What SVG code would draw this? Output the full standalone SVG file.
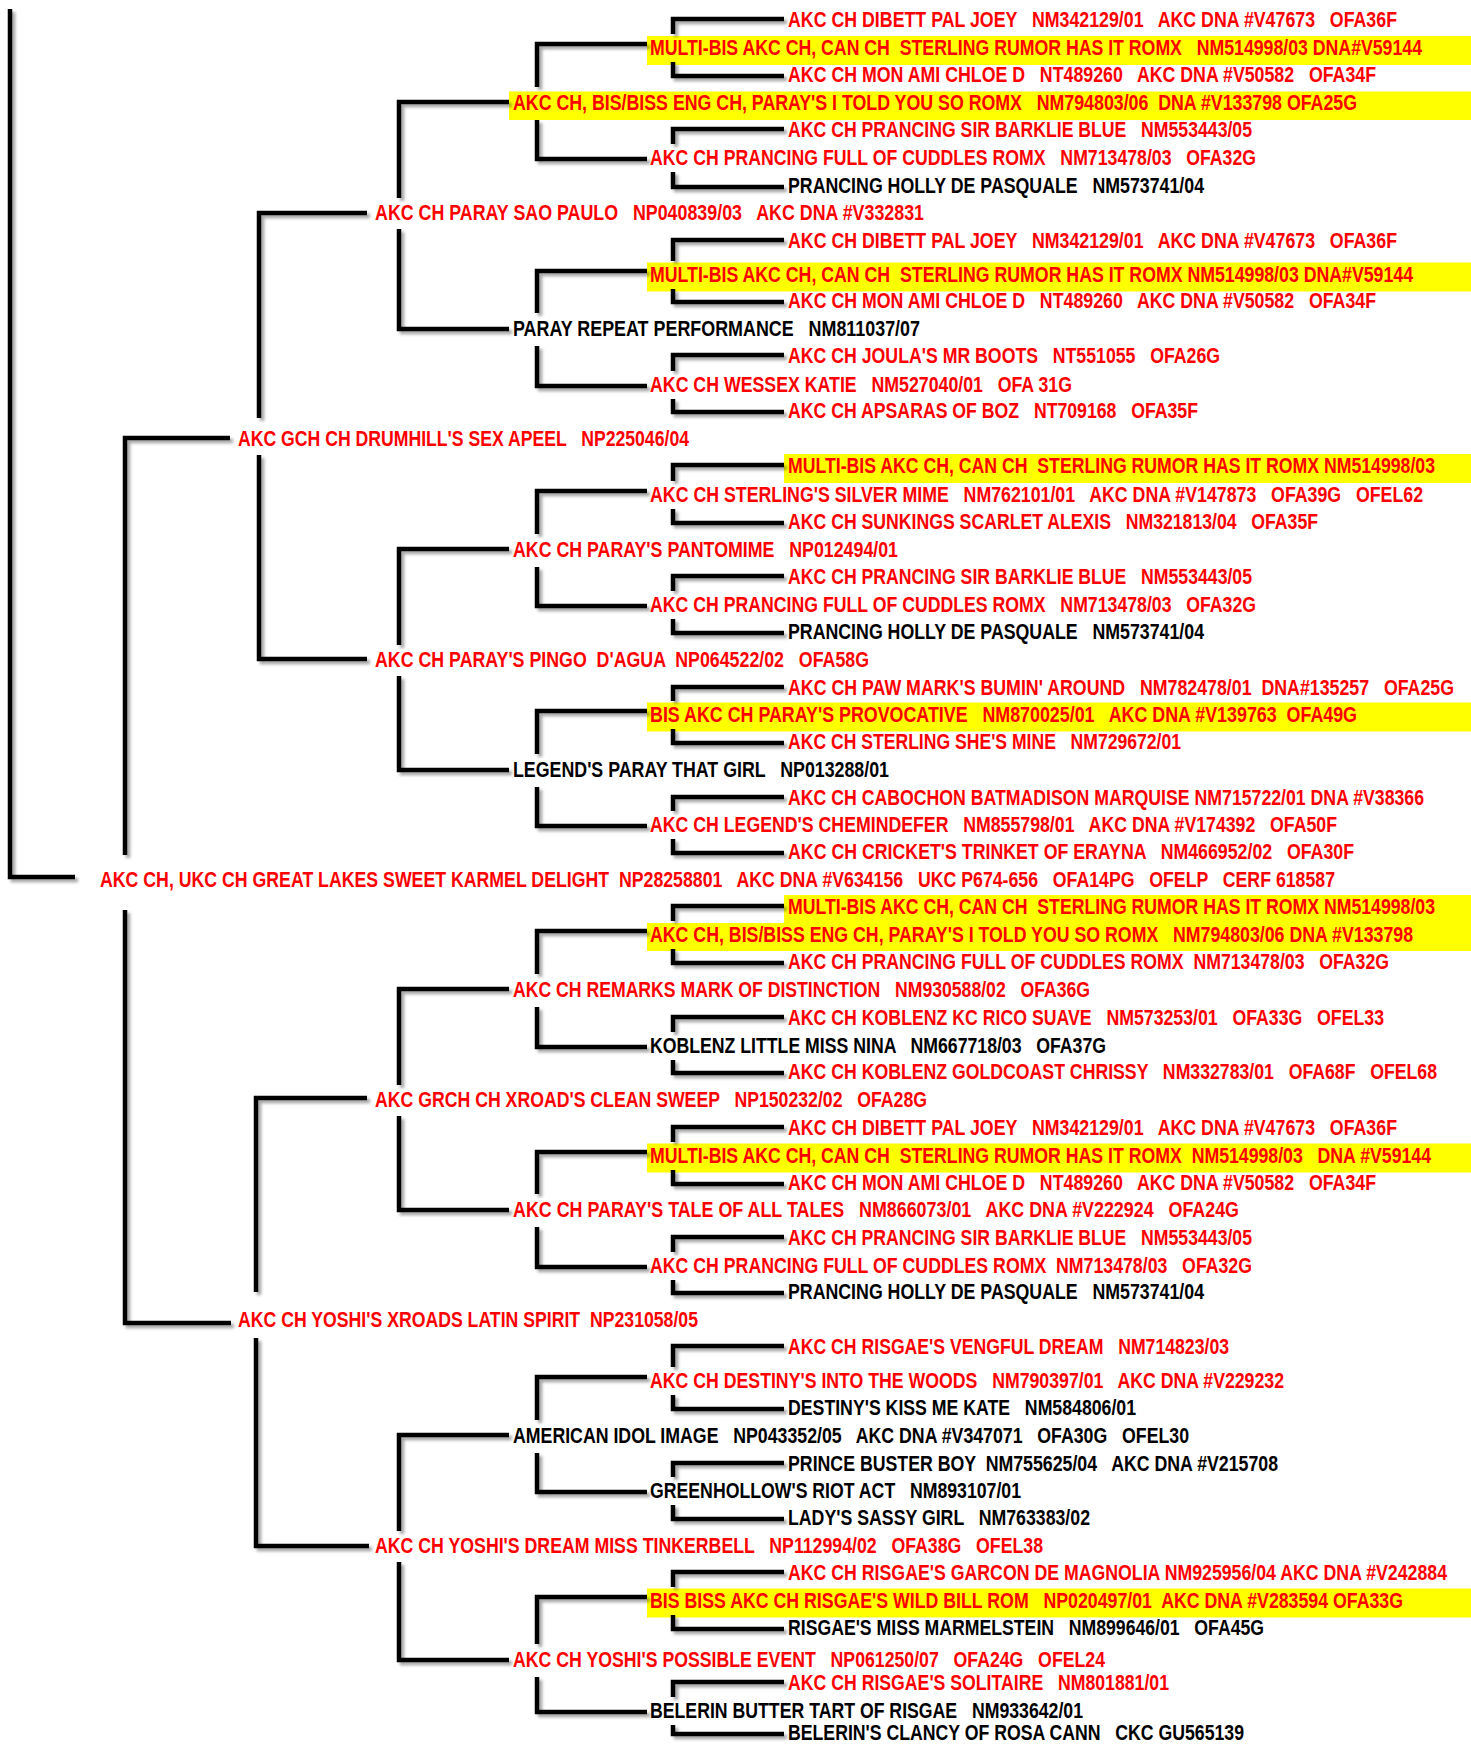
<svg xmlns="http://www.w3.org/2000/svg" width="1471" height="1745" viewBox="0 0 1471 1745">
<defs>
<style>
text{font-family:"Liberation Sans",Arial,sans-serif;font-weight:bold;font-size:17.2px;white-space:pre}
.r{fill:#ff0000}
.k{fill:#000000}
.hl{fill:#ffff00}
.c{fill:none;stroke:#000;stroke-width:4.5;stroke-linecap:butt;stroke-linejoin:miter}
</style>
<filter id="sh" x="-10%" y="-10%" width="130%" height="130%">
<feDropShadow dx="3" dy="3" stdDeviation="1.5" flood-color="#000" flood-opacity="0.35"/>
</filter>
</defs>
<rect width="1471" height="1745" fill="#ffffff"/>
<g id="nodes">
<g id="n1"><text class="r" transform="translate(788,26.7) scale(1,1.24)" textLength="609" lengthAdjust="spacingAndGlyphs">AKC CH DIBETT PAL JOEY   NM342129/01   AKC DNA #V47673   OFA36F</text></g>
<g id="n2"><rect class="hl" x="647" y="36" width="824" height="29"/><text class="r" transform="translate(650,55) scale(1,1.24)" textLength="772" lengthAdjust="spacingAndGlyphs">MULTI-BIS AKC CH, CAN CH  STERLING RUMOR HAS IT ROMX   NM514998/03 DNA#V59144</text></g>
<g id="n3"><text class="r" transform="translate(788,81.7) scale(1,1.24)" textLength="588" lengthAdjust="spacingAndGlyphs">AKC CH MON AMI CHLOE D   NT489260   AKC DNA #V50582   OFA34F</text></g>
<g id="n4"><rect class="hl" x="509" y="91.5" width="962" height="28.5"/><text class="r" transform="translate(513,110) scale(1,1.24)" textLength="844" lengthAdjust="spacingAndGlyphs">AKC CH, BIS/BISS ENG CH, PARAY'S I TOLD YOU SO ROMX   NM794803/06  DNA #V133798 OFA25G</text></g>
<g id="n5"><text class="r" transform="translate(788,137.3) scale(1,1.24)" textLength="464" lengthAdjust="spacingAndGlyphs">AKC CH PRANCING SIR BARKLIE BLUE   NM553443/05</text></g>
<g id="n6"><text class="r" transform="translate(650,165) scale(1,1.24)" textLength="606" lengthAdjust="spacingAndGlyphs">AKC CH PRANCING FULL OF CUDDLES ROMX   NM713478/03   OFA32G</text></g>
<g id="n7"><text class="k" transform="translate(788,192.7) scale(1,1.24)" textLength="416" lengthAdjust="spacingAndGlyphs">PRANCING HOLLY DE PASQUALE   NM573741/04</text></g>
<g id="n8"><text class="r" transform="translate(375,220) scale(1,1.24)" textLength="549" lengthAdjust="spacingAndGlyphs">AKC CH PARAY SAO PAULO   NP040839/03   AKC DNA #V332831</text></g>
<g id="n9"><text class="r" transform="translate(788,248) scale(1,1.24)" textLength="609" lengthAdjust="spacingAndGlyphs">AKC CH DIBETT PAL JOEY   NM342129/01   AKC DNA #V47673   OFA36F</text></g>
<g id="n10"><rect class="hl" x="647" y="262.5" width="824" height="29"/><text class="r" transform="translate(650,281.7) scale(1,1.24)" textLength="763" lengthAdjust="spacingAndGlyphs">MULTI-BIS AKC CH, CAN CH  STERLING RUMOR HAS IT ROMX NM514998/03 DNA#V59144</text></g>
<g id="n11"><text class="r" transform="translate(788,308.3) scale(1,1.24)" textLength="588" lengthAdjust="spacingAndGlyphs">AKC CH MON AMI CHLOE D   NT489260   AKC DNA #V50582   OFA34F</text></g>
<g id="n12"><text class="k" transform="translate(513,336) scale(1,1.24)" textLength="407" lengthAdjust="spacingAndGlyphs">PARAY REPEAT PERFORMANCE   NM811037/07</text></g>
<g id="n13"><text class="r" transform="translate(788,363) scale(1,1.24)" textLength="432" lengthAdjust="spacingAndGlyphs">AKC CH JOULA'S MR BOOTS   NT551055   OFA26G</text></g>
<g id="n14"><text class="r" transform="translate(650,391.7) scale(1,1.24)" textLength="422" lengthAdjust="spacingAndGlyphs">AKC CH WESSEX KATIE   NM527040/01   OFA 31G</text></g>
<g id="n15"><text class="r" transform="translate(788,418) scale(1,1.24)" textLength="410" lengthAdjust="spacingAndGlyphs">AKC CH APSARAS OF BOZ   NT709168   OFA35F</text></g>
<g id="n16"><text class="r" transform="translate(238,446) scale(1,1.24)" textLength="451" lengthAdjust="spacingAndGlyphs">AKC GCH CH DRUMHILL'S SEX APEEL   NP225046/04</text></g>
<g id="n17"><rect class="hl" x="784" y="454" width="687" height="29"/><text class="r" transform="translate(788,473) scale(1,1.24)" textLength="647" lengthAdjust="spacingAndGlyphs">MULTI-BIS AKC CH, CAN CH  STERLING RUMOR HAS IT ROMX NM514998/03</text></g>
<g id="n18"><text class="r" transform="translate(650,502) scale(1,1.24)" textLength="773" lengthAdjust="spacingAndGlyphs">AKC CH STERLING'S SILVER MIME   NM762101/01   AKC DNA #V147873   OFA39G   OFEL62</text></g>
<g id="n19"><text class="r" transform="translate(788,529) scale(1,1.24)" textLength="530" lengthAdjust="spacingAndGlyphs">AKC CH SUNKINGS SCARLET ALEXIS   NM321813/04   OFA35F</text></g>
<g id="n20"><text class="r" transform="translate(513,557) scale(1,1.24)" textLength="385" lengthAdjust="spacingAndGlyphs">AKC CH PARAY'S PANTOMIME   NP012494/01</text></g>
<g id="n21"><text class="r" transform="translate(788,584) scale(1,1.24)" textLength="464" lengthAdjust="spacingAndGlyphs">AKC CH PRANCING SIR BARKLIE BLUE   NM553443/05</text></g>
<g id="n22"><text class="r" transform="translate(650,612) scale(1,1.24)" textLength="606" lengthAdjust="spacingAndGlyphs">AKC CH PRANCING FULL OF CUDDLES ROMX   NM713478/03   OFA32G</text></g>
<g id="n23"><text class="k" transform="translate(788,639) scale(1,1.24)" textLength="416" lengthAdjust="spacingAndGlyphs">PRANCING HOLLY DE PASQUALE   NM573741/04</text></g>
<g id="n24"><text class="r" transform="translate(375,667) scale(1,1.24)" textLength="494" lengthAdjust="spacingAndGlyphs">AKC CH PARAY'S PINGO  D'AGUA  NP064522/02   OFA58G</text></g>
<g id="n25"><text class="r" transform="translate(788,695) scale(1,1.24)" textLength="666" lengthAdjust="spacingAndGlyphs">AKC CH PAW MARK'S BUMIN' AROUND   NM782478/01  DNA#135257   OFA25G</text></g>
<g id="n26"><rect class="hl" x="647" y="702.5" width="824" height="29"/><text class="r" transform="translate(650,722) scale(1,1.24)" textLength="707" lengthAdjust="spacingAndGlyphs">BIS AKC CH PARAY'S PROVOCATIVE   NM870025/01   AKC DNA #V139763  OFA49G</text></g>
<g id="n27"><text class="r" transform="translate(788,749) scale(1,1.24)" textLength="393" lengthAdjust="spacingAndGlyphs">AKC CH STERLING SHE'S MINE   NM729672/01</text></g>
<g id="n28"><text class="k" transform="translate(513,777) scale(1,1.24)" textLength="376" lengthAdjust="spacingAndGlyphs">LEGEND'S PARAY THAT GIRL   NP013288/01</text></g>
<g id="n29"><text class="r" transform="translate(788,805) scale(1,1.24)" textLength="636" lengthAdjust="spacingAndGlyphs">AKC CH CABOCHON BATMADISON MARQUISE NM715722/01 DNA #V38366</text></g>
<g id="n30"><text class="r" transform="translate(650,832) scale(1,1.24)" textLength="687" lengthAdjust="spacingAndGlyphs">AKC CH LEGEND'S CHEMINDEFER   NM855798/01   AKC DNA #V174392   OFA50F</text></g>
<g id="n31"><text class="r" transform="translate(788,859) scale(1,1.24)" textLength="566" lengthAdjust="spacingAndGlyphs">AKC CH CRICKET'S TRINKET OF ERAYNA   NM466952/02   OFA30F</text></g>
<g id="n32"><text class="r" transform="translate(100,887) scale(1,1.24)" textLength="1235" lengthAdjust="spacingAndGlyphs">AKC CH, UKC CH GREAT LAKES SWEET KARMEL DELIGHT  NP28258801   AKC DNA #V634156   UKC P674-656   OFA14PG   OFELP   CERF 618587</text></g>
<g id="n33"><rect class="hl" x="784" y="895" width="687" height="28.5"/><text class="r" transform="translate(788,914) scale(1,1.24)" textLength="647" lengthAdjust="spacingAndGlyphs">MULTI-BIS AKC CH, CAN CH  STERLING RUMOR HAS IT ROMX NM514998/03</text></g>
<g id="n34"><rect class="hl" x="647" y="923" width="824" height="28"/><text class="r" transform="translate(650,942) scale(1,1.24)" textLength="763" lengthAdjust="spacingAndGlyphs">AKC CH, BIS/BISS ENG CH, PARAY'S I TOLD YOU SO ROMX   NM794803/06 DNA #V133798</text></g>
<g id="n35"><text class="r" transform="translate(788,969) scale(1,1.24)" textLength="601" lengthAdjust="spacingAndGlyphs">AKC CH PRANCING FULL OF CUDDLES ROMX  NM713478/03   OFA32G</text></g>
<g id="n36"><text class="r" transform="translate(513,997) scale(1,1.24)" textLength="577" lengthAdjust="spacingAndGlyphs">AKC CH REMARKS MARK OF DISTINCTION   NM930588/02   OFA36G</text></g>
<g id="n37"><text class="r" transform="translate(788,1025) scale(1,1.24)" textLength="596" lengthAdjust="spacingAndGlyphs">AKC CH KOBLENZ KC RICO SUAVE   NM573253/01   OFA33G   OFEL33</text></g>
<g id="n38"><text class="k" transform="translate(650,1053) scale(1,1.24)" textLength="456" lengthAdjust="spacingAndGlyphs">KOBLENZ LITTLE MISS NINA   NM667718/03   OFA37G</text></g>
<g id="n39"><text class="r" transform="translate(788,1079) scale(1,1.24)" textLength="649" lengthAdjust="spacingAndGlyphs">AKC CH KOBLENZ GOLDCOAST CHRISSY   NM332783/01   OFA68F   OFEL68</text></g>
<g id="n40"><text class="r" transform="translate(375,1107) scale(1,1.24)" textLength="552" lengthAdjust="spacingAndGlyphs">AKC GRCH CH XROAD'S CLEAN SWEEP   NP150232/02   OFA28G</text></g>
<g id="n41"><text class="r" transform="translate(788,1135) scale(1,1.24)" textLength="609" lengthAdjust="spacingAndGlyphs">AKC CH DIBETT PAL JOEY   NM342129/01   AKC DNA #V47673   OFA36F</text></g>
<g id="n42"><rect class="hl" x="647" y="1143.5" width="824" height="29"/><text class="r" transform="translate(650,1163) scale(1,1.24)" textLength="781" lengthAdjust="spacingAndGlyphs">MULTI-BIS AKC CH, CAN CH  STERLING RUMOR HAS IT ROMX  NM514998/03   DNA #V59144</text></g>
<g id="n43"><text class="r" transform="translate(788,1190) scale(1,1.24)" textLength="588" lengthAdjust="spacingAndGlyphs">AKC CH MON AMI CHLOE D   NT489260   AKC DNA #V50582   OFA34F</text></g>
<g id="n44"><text class="r" transform="translate(513,1217) scale(1,1.24)" textLength="726" lengthAdjust="spacingAndGlyphs">AKC CH PARAY'S TALE OF ALL TALES   NM866073/01   AKC DNA #V222924   OFA24G</text></g>
<g id="n45"><text class="r" transform="translate(788,1245) scale(1,1.24)" textLength="464" lengthAdjust="spacingAndGlyphs">AKC CH PRANCING SIR BARKLIE BLUE   NM553443/05</text></g>
<g id="n46"><text class="r" transform="translate(650,1273) scale(1,1.24)" textLength="602" lengthAdjust="spacingAndGlyphs">AKC CH PRANCING FULL OF CUDDLES ROMX  NM713478/03   OFA32G</text></g>
<g id="n47"><text class="k" transform="translate(788,1299) scale(1,1.24)" textLength="416" lengthAdjust="spacingAndGlyphs">PRANCING HOLLY DE PASQUALE   NM573741/04</text></g>
<g id="n48"><text class="r" transform="translate(238,1327) scale(1,1.24)" textLength="460" lengthAdjust="spacingAndGlyphs">AKC CH YOSHI'S XROADS LATIN SPIRIT  NP231058/05</text></g>
<g id="n49"><text class="r" transform="translate(788,1354) scale(1,1.24)" textLength="441" lengthAdjust="spacingAndGlyphs">AKC CH RISGAE'S VENGFUL DREAM   NM714823/03</text></g>
<g id="n50"><text class="r" transform="translate(650,1388) scale(1,1.24)" textLength="634" lengthAdjust="spacingAndGlyphs">AKC CH DESTINY'S INTO THE WOODS   NM790397/01   AKC DNA #V229232</text></g>
<g id="n51"><text class="k" transform="translate(788,1415) scale(1,1.24)" textLength="348" lengthAdjust="spacingAndGlyphs">DESTINY'S KISS ME KATE   NM584806/01</text></g>
<g id="n52"><text class="k" transform="translate(513,1443) scale(1,1.24)" textLength="676" lengthAdjust="spacingAndGlyphs">AMERICAN IDOL IMAGE   NP043352/05   AKC DNA #V347071   OFA30G   OFEL30</text></g>
<g id="n53"><text class="k" transform="translate(788,1471) scale(1,1.24)" textLength="490" lengthAdjust="spacingAndGlyphs">PRINCE BUSTER BOY  NM755625/04   AKC DNA #V215708</text></g>
<g id="n54"><text class="k" transform="translate(650,1498) scale(1,1.24)" textLength="371" lengthAdjust="spacingAndGlyphs">GREENHOLLOW'S RIOT ACT   NM893107/01</text></g>
<g id="n55"><text class="k" transform="translate(788,1525) scale(1,1.24)" textLength="302" lengthAdjust="spacingAndGlyphs">LADY'S SASSY GIRL   NM763383/02</text></g>
<g id="n56"><text class="r" transform="translate(375,1553) scale(1,1.24)" textLength="668" lengthAdjust="spacingAndGlyphs">AKC CH YOSHI'S DREAM MISS TINKERBELL   NP112994/02   OFA38G   OFEL38</text></g>
<g id="n57"><text class="r" transform="translate(788,1580) scale(1,1.24)" textLength="659" lengthAdjust="spacingAndGlyphs">AKC CH RISGAE'S GARCON DE MAGNOLIA NM925956/04 AKC DNA #V242884</text></g>
<g id="n58"><rect class="hl" x="647" y="1588.5" width="824" height="29"/><text class="r" transform="translate(650,1608) scale(1,1.24)" textLength="753" lengthAdjust="spacingAndGlyphs">BIS BISS AKC CH RISGAE'S WILD BILL ROM   NP020497/01  AKC DNA #V283594 OFA33G</text></g>
<g id="n59"><text class="k" transform="translate(788,1635) scale(1,1.24)" textLength="476" lengthAdjust="spacingAndGlyphs">RISGAE'S MISS MARMELSTEIN   NM899646/01   OFA45G</text></g>
<g id="n60"><text class="r" transform="translate(513,1667) scale(1,1.24)" textLength="592" lengthAdjust="spacingAndGlyphs">AKC CH YOSHI'S POSSIBLE EVENT   NP061250/07   OFA24G   OFEL24</text></g>
<g id="n61"><text class="r" transform="translate(788,1690) scale(1,1.24)" textLength="381" lengthAdjust="spacingAndGlyphs">AKC CH RISGAE'S SOLITAIRE   NM801881/01</text></g>
<g id="n62"><text class="k" transform="translate(650,1718) scale(1,1.24)" textLength="433" lengthAdjust="spacingAndGlyphs">BELERIN BUTTER TART OF RISGAE   NM933642/01</text></g>
<g id="n63"><text class="k" transform="translate(788,1740.3) scale(1,1.24)" textLength="456" lengthAdjust="spacingAndGlyphs">BELERIN'S CLANCY OF ROSA CANN   CKC GU565139</text></g>
</g>
<g id="connectors" class="c" filter="url(#sh)">
<path d="M10,9 V877 H75"/>
<path d="M230,438 H125 V855"/>
<path d="M125,910 V1323 H231"/>
<path d="M367,213 H259 V418"/>
<path d="M259,455 V659 H367"/>
<path d="M367,1098 H256 V1292"/>
<path d="M256,1338 V1546 H369"/>
<path d="M509,102 H399 V198"/>
<path d="M399,229 V329 H509"/>
<path d="M509,549 H399 V645"/>
<path d="M399,676 V770 H509"/>
<path d="M509,989 H399 V1085"/>
<path d="M399,1116 V1210 H509"/>
<path d="M509,1435 H399 V1531"/>
<path d="M399,1562 V1660 H509"/>
<path d="M647,44 H537 V87"/>
<path d="M537,120 V159 H647"/>
<path d="M647,271 H537 V313"/>
<path d="M537,346 V386 H647"/>
<path d="M647,491 H537 V534"/>
<path d="M537,567 V606 H647"/>
<path d="M647,711 H537 V754"/>
<path d="M537,787 V826 H647"/>
<path d="M647,931 H537 V974"/>
<path d="M537,1007 V1047 H647"/>
<path d="M647,1152 H537 V1194"/>
<path d="M537,1227 V1267 H647"/>
<path d="M647,1377 H537 V1420"/>
<path d="M537,1453 V1492 H647"/>
<path d="M647,1597 H537 V1644"/>
<path d="M537,1677 V1712 H647"/>
<path d="M784,19 H673 V34"/>
<path d="M673,62 V76 H784"/>
<path d="M784,129 H673 V144"/>
<path d="M673,172 V187 H784"/>
<path d="M784,240 H673 V261"/>
<path d="M673,289 V302 H784"/>
<path d="M784,355 H673 V371"/>
<path d="M673,399 V412 H784"/>
<path d="M784,465 H673 V481"/>
<path d="M673,509 V523 H784"/>
<path d="M784,576 H673 V591"/>
<path d="M673,619 V633 H784"/>
<path d="M784,687 H673 V701"/>
<path d="M673,729 V743 H784"/>
<path d="M784,797 H673 V811"/>
<path d="M673,839 V853 H784"/>
<path d="M784,906 H673 V921"/>
<path d="M673,949 V963 H784"/>
<path d="M784,1017 H673 V1032"/>
<path d="M673,1060 V1073 H784"/>
<path d="M784,1127 H673 V1142"/>
<path d="M673,1170 V1184 H784"/>
<path d="M784,1237 H673 V1252"/>
<path d="M673,1280 V1293 H784"/>
<path d="M784,1346 H673 V1367"/>
<path d="M673,1395 V1409 H784"/>
<path d="M784,1463 H673 V1477"/>
<path d="M673,1505 V1519 H784"/>
<path d="M784,1572 H673 V1587"/>
<path d="M673,1615 V1629 H784"/>
<path d="M784,1682 H673 V1697"/>
<path d="M673,1725 V1734 H784"/>
</g>
</svg>
